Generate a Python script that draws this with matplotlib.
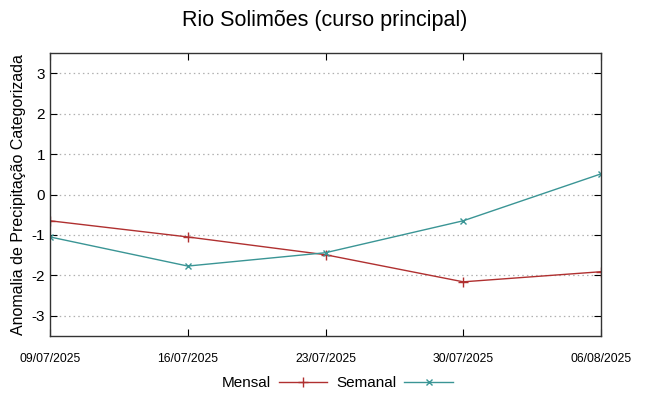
import datetime as dt

import matplotlib
matplotlib.use("Agg")
import matplotlib.pyplot as plt

dates = ["09/07/2025", "16/07/2025", "23/07/2025", "30/07/2025", "06/08/2025"]
mensal = [-0.65, -1.05, -1.49, -2.16, -1.91]
semanal = [-1.05, -1.77, -1.44, -0.65, 0.51]
yticks = [-3, -2, -1, 0, 1, 2, 3]

x = [dt.datetime.strptime(d, "%d/%m/%Y") for d in dates]

plt.rcParams["font.family"] = ["Liberation Sans", "DejaVu Sans"]

fig = plt.figure(figsize=(6.49, 3.96), dpi=100)
ax = fig.add_axes([50 / 649, 60 / 396, 551 / 649, 283 / 396])

ax.plot(x, mensal, color="#b03030", lw=1.0, marker="+", ms=7, mew=1.0,
        label="Mensal")
ax.plot(x, semanal, color="#3a9595", lw=1.0, marker="x", ms=5, mew=1.0,
        label="Semanal")

ax.set_xlim(x[0], x[-1])
ax.set_ylim(-3.5, 3.5)
ax.set_yticks(yticks)
ax.set_yticklabels([str(v) for v in yticks])
ax.set_xticks(x)
ax.set_xticklabels(dates)
ax.tick_params(axis="x", labelsize=8.8, pad=12, direction="in", top=True,
               length=5, width=0.8)
ax.tick_params(axis="y", labelsize=11, direction="in", right=True,
               length=5, width=0.8)
ax.grid(axis="y", color="#b0b0b0", linestyle=(0, (1.2, 2.5)), lw=0.9)
for s in ax.spines.values():
    s.set_color("#333333")
    s.set_linewidth(1.0)

ax.set_ylabel("Anomalia de Precipitação Categorizada", fontsize=11.5,
              labelpad=4)
fig.suptitle("Rio Solimões (curso principal)", fontsize=15.5, y=0.975)

fig.legend(loc="lower center", bbox_to_anchor=(0.52, -0.02), ncol=2,
           frameon=False, markerfirst=False, fontsize=11, handlelength=3.2,
           columnspacing=0.6, handletextpad=0.5)

fig.savefig("out.png", dpi=100)
